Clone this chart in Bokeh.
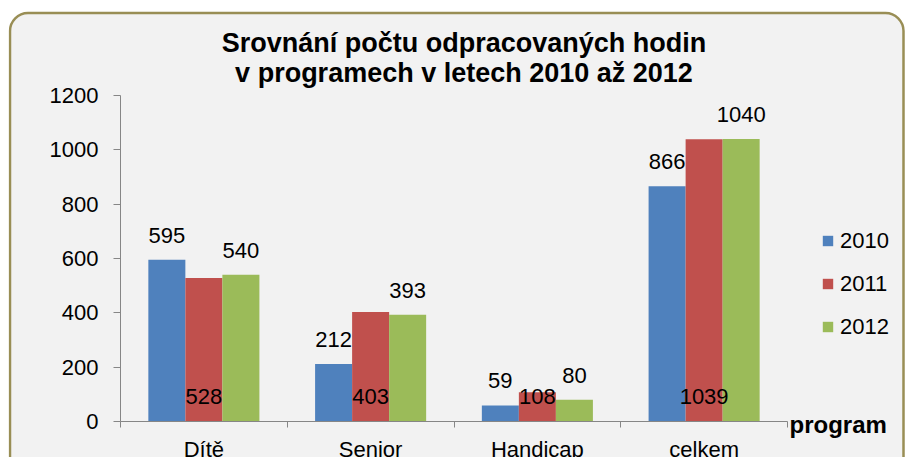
from bokeh.plotting import figure
from bokeh.models import (ColumnDataSource, Range1d, FixedTicker,
                          LabelSet, Label, Legend, LegendItem, BoxAnnotation)
from bokeh.transform import dodge
from bokeh.core.properties import value
from bokeh.embed import file_html
from bokeh.resources import INLINE

# ---- data ----
categories = ["Dítě", "Senior", "Handicap", "celkem"]
years = ["2010", "2011", "2012"]
v2010 = [595, 212, 59, 866]
v2011 = [528, 403, 108, 1039]
v2012 = [540, 393, 80, 1040]
y_ticks = [0, 200, 400, 600, 800, 1000, 1200]
title_lines = ["Srovnání počtu odpracovaných hodin", "v programech v letech 2010 až 2012"]
x_title = "program"
colors = ["#4f81bd", "#c0504d", "#9bbb59"]

FONT = "Liberation Sans"
GREY = "#868686"
BAR_W = 0.222
N = len(categories)
Y_MAX = y_ticks[-1]

# ---- layout (pixels) ----
W, H = 905, 457
FRAME_L = 8
AX_X0, AX_X1 = 120, 787      # where x=0 and x=N sit
AX_Y0, AX_Y1 = 421, 95       # where y=0 and y=Y_MAX sit
ppx = (AX_X1 - AX_X0) / N
ppy = (AX_Y0 - AX_Y1) / Y_MAX
x_start = -(AX_X0 - FRAME_L) / ppx
x_end = N + (W - AX_X1) / ppx
y_start = -(H - AX_Y0) / ppy
y_end = Y_MAX + AX_Y1 / ppy

centers = [i + 0.5 for i in range(N)]

source = ColumnDataSource(dict(
    cat=categories, idx=centers,
    v2010=v2010, v2011=v2011, v2012=v2012,
    t2010=[str(v) for v in v2010],
    t2011=[str(v) for v in v2011],
    t2012=[str(v) for v in v2012],
    zero=[0] * N,
))
ysrc = ColumnDataSource(dict(tick=y_ticks, txt=[str(t) for t in y_ticks]))

p = figure(
    x_range=Range1d(x_start, x_end),
    y_range=Range1d(y_start, y_end),
    width=W, height=H,
    output_backend="svg", toolbar_location=None,
    min_border_left=FRAME_L, min_border_right=0, min_border_top=0, min_border_bottom=0,
)
p.background_fill_color = "white"
p.border_fill_color = "white"
p.outline_line_color = None
p.xgrid.visible = False
p.ygrid.visible = False

# rounded panel
panel = BoxAnnotation(left=1.5, right=W - FRAME_L - 2, top=H - 12.5, bottom=-40,
                      left_units="screen", right_units="screen",
                      top_units="screen", bottom_units="screen",
                      fill_color="#f2f2f2", fill_alpha=1,
                      line_color="#998e55", line_alpha=1, line_width=2.5,
                      border_radius=18, level="underlay")
p.add_layout(panel)

# y axis at x=0
ya = p.yaxis[0]
ya.fixed_location = 0
ya.bounds = (0, Y_MAX)
ya.ticker = FixedTicker(ticks=[], minor_ticks=y_ticks)
ya.axis_line_color = GREY
ya.major_tick_out = 0
ya.major_tick_in = 0
ya.major_label_standoff = 0
ya.minor_tick_out = 7
ya.minor_tick_in = 0
ya.minor_tick_line_color = GREY

# x axis at y=0
xa = p.xaxis[0]
xa.fixed_location = 0
xa.bounds = (0, N)
xa.ticker = FixedTicker(ticks=[], minor_ticks=list(range(N + 1)))
xa.axis_line_color = GREY
xa.major_tick_out = 0
xa.major_tick_in = 0
xa.major_label_standoff = 0
xa.minor_tick_out = 6
xa.minor_tick_in = 0
xa.minor_tick_line_color = GREY

# y tick labels
p.add_layout(LabelSet(x=0, y="tick", text="txt", source=ysrc, x_offset=-22,
                      text_align="right", text_baseline="middle",
                      text_font=value(FONT), text_font_size="22px", text_color="black"))

# bars
offsets = [-BAR_W, 0, BAR_W]
renderers = []
for yr, off, c in zip(years, offsets, colors):
    r = p.vbar(x=dodge("idx", off), top="v" + yr, width=BAR_W,
               source=source, fill_color=c, line_color=None)
    renderers.append(r)

# data labels
lab_kw = dict(source=source, text_align="center", text_baseline="alphabetic",
              text_font=value(FONT), text_font_size="22px", text_color="black")
p.add_layout(LabelSet(x=dodge("idx", -BAR_W), y="v2010", text="t2010", y_offset=17, **lab_kw))
p.add_layout(LabelSet(x=dodge("idx", 0), y="zero", text="t2011", y_offset=18, **lab_kw))
p.add_layout(LabelSet(x=dodge("idx", BAR_W), y="v2012", text="t2012", y_offset=17, **lab_kw))

# category labels
p.add_layout(LabelSet(x="idx", y="zero", text="cat", source=source,
                      text_align="center", text_baseline="top", y_offset=-15,
                      text_font=value(FONT), text_font_size="22px", text_color="black"))

# x axis title
p.add_layout(Label(x=N, y=0, text=x_title, text_color="black",
                   text_font=FONT, text_font_style="bold", text_font_size="24px",
                   text_baseline="middle", text_align="left", x_offset=2, y_offset=-3))

# title
for line, yo in zip(title_lines, [53, 23]):
    p.add_layout(Label(x=N / 2, y=Y_MAX, text=line, text_color="black",
                       text_font=FONT, text_font_style="bold", text_font_size="27px",
                       text_align="center", text_baseline="middle",
                       x_offset=10, y_offset=yo))

# legend
legend = Legend(
    items=[LegendItem(label=yr, renderers=[r]) for yr, r in zip(years, renderers)],
    location=(821 - FRAME_L, H - 339.5),
    glyph_width=13, glyph_height=13, label_standoff=6, spacing=17, label_height=21,
    padding=0, margin=0, border_line_color=None, background_fill_alpha=0,
    label_text_font=FONT, label_text_font_size="22px", label_text_color="black",
)
p.add_layout(legend)

open("out.html", "w").write(file_html(p, INLINE))
